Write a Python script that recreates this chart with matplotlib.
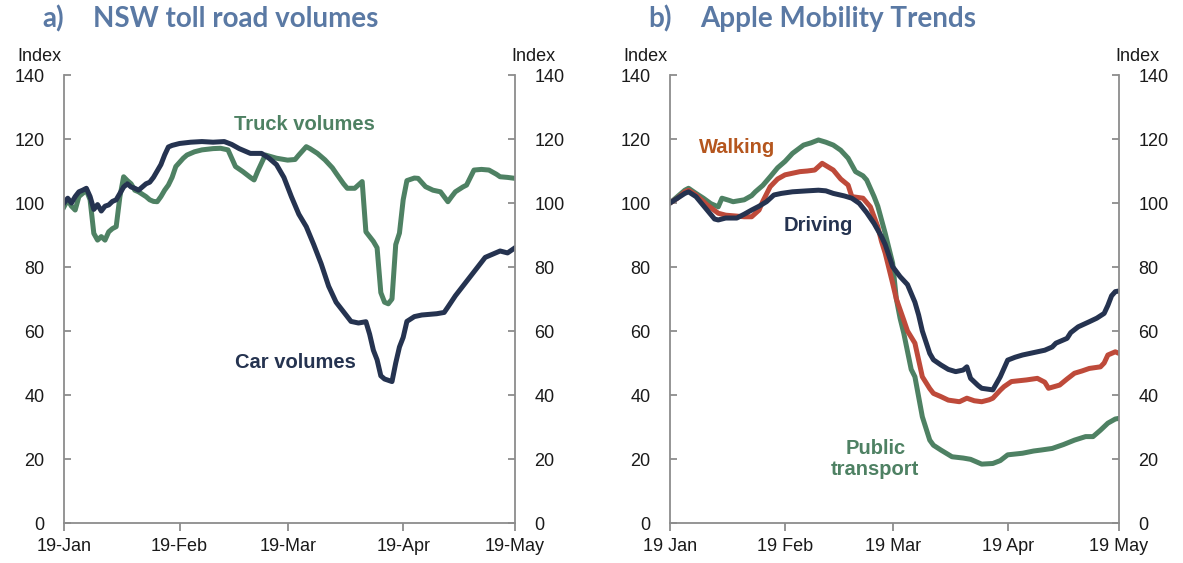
import matplotlib
matplotlib.use("Agg")
import matplotlib.pyplot as plt
import pandas as pd

# ---------------- data ----------------
base = pd.Timestamp("2020-01-19")

car_days = [0, 1, 2, 3, 4, 5, 6, 7, 8, 9, 10, 11, 12, 13, 14, 15, 16, 17, 18, 19, 20, 21, 22, 23,
            24, 25, 26, 27, 28, 29, 31, 34, 37, 40, 43, 45, 47, 50, 53, 55, 57, 59, 61, 63, 65, 67,
            69, 71, 73, 75, 77, 79, 81, 82, 83, 84, 85, 86, 88, 89, 90, 91, 92, 94, 96, 98, 100,
            102, 103, 105, 107, 109, 111, 113, 115, 117, 119, 121]
car_vals = [100, 101.5, 100, 102, 103.5, 104, 104.6, 102, 98, 99.5, 97.5, 99, 99.4, 100.5, 101,
            103, 105, 106, 105, 104.6, 104, 105, 106, 106.5, 108, 110, 112, 115, 117.5, 118, 118.6,
            119, 119.2, 119, 119.2, 118.3, 117, 115.5, 115.5, 114, 112, 108, 102, 96.5, 92.6, 87,
            81, 74, 69, 66, 63, 62.5, 62.9, 59, 54, 51, 46, 45, 44.2, 50, 55, 58, 63, 64.5, 65,
            65.2, 65.4, 65.8, 67.5, 71, 74, 77, 80, 83, 84, 85, 84.4, 86]

truck_days = [0, 1, 2, 3, 4, 5, 6, 7, 8, 9, 10, 11, 12, 13, 14, 15, 16, 17, 18, 19, 20, 22, 23,
              24, 25, 26, 27, 28, 29, 30, 32, 33, 35, 37, 40, 42, 44, 45, 46, 48, 50, 51, 52, 53,
              54, 57, 60, 62, 63, 65, 66, 68, 70, 72, 73, 75, 76, 78, 80, 81, 82, 83, 84, 85, 86,
              87, 88, 89, 90, 91, 92, 94, 95, 97, 99, 101, 103, 104, 105, 107, 108, 110, 112, 114,
              116, 117, 119, 121]
truck_vals = [98.8, 101, 99, 97.8, 102, 103, 104, 101, 90.5, 88.4, 89.5, 88.4, 91, 92, 92.6, 102,
              108.2, 107, 106, 104, 103.5, 102, 101, 100.5, 100.4, 102, 104, 105.6, 108, 111.4,
              114, 115, 116, 116.6, 117, 117.1, 116.6, 114, 111.4, 109.8, 108, 107.2, 110, 112.5,
              115, 114, 113.4, 113.6, 115, 117.6, 117, 115.5, 113.5, 111, 109.3, 106, 104.6,
              104.6, 106.7, 91, 89.5, 88, 86, 72, 69, 68.5, 70, 87, 90.6, 101, 107, 107.8, 107.7,
              105.1, 104, 103.5, 100.4, 102, 103.5, 105, 105.6, 110.3, 110.5, 110.3, 109, 108.2,
              108, 107.7]

drive_days = [0, 2, 4, 5, 7, 10, 12, 13, 15, 18, 20, 22, 24, 26, 28, 30, 33, 37, 40, 42, 44, 47,
              49, 51, 53, 55, 57, 58, 60, 62, 64, 66, 67, 68, 70, 71, 73, 75, 77, 79, 80, 81, 83,
              84, 87, 89, 91, 93, 95, 97, 99, 101, 103, 104, 107, 108, 110, 113, 115, 117, 118,
              119, 120, 121]
drive_vals = [100, 101.5, 103, 103.5, 102, 97.8, 95, 94.7, 95.3, 95.3, 96.5, 97.8, 99, 100.4,
              102.5, 103, 103.5, 103.8, 104, 103.8, 103, 102.2, 101.5, 99.9, 97, 93.6, 89.5, 87,
              80.1, 77, 74.5, 69, 65, 60, 53, 51, 49.4, 48, 47.3, 47.8, 48.8, 45.2, 43, 42.1,
              41.6, 45.7, 50.9, 51.8, 52.5, 53, 53.5, 54, 55, 56.2, 57.7, 59.5, 61.3, 62.9, 64,
              65.5, 68, 71, 72.3, 72.5]

walk_days = [0, 2, 4, 5, 7, 10, 13, 15, 17, 20, 22, 24, 25, 27, 29, 31, 33, 35, 37, 39, 41, 43,
             44, 46, 48, 49, 52, 54, 56, 57, 58, 60, 61, 63, 64, 66, 68, 70, 71, 73, 75, 78, 80,
             82, 84, 86, 87, 89, 90, 92, 96, 99, 101, 102, 105, 107, 109, 111, 113, 116, 117,
             118, 120, 121]
walk_vals = [100, 101.5, 103.5, 104, 102.5, 99.4, 96.8, 96.2, 96, 95.7, 95.7, 97.8, 100.5, 105.1,
             107.5, 108.8, 109.3, 109.8, 110, 110.3, 112.4, 111, 110.3, 107.5, 105.6, 102, 101.5,
             98.8, 92.6, 88, 84.3, 74.9, 70, 63.4, 60, 56.2, 45.7, 42, 40.5, 39.5, 38.4, 37.9,
             39, 38.2, 37.9, 38.5, 39, 41.5, 42.6, 44.2, 44.7, 45.2, 44, 42.1, 43.1, 45, 46.8,
             47.5, 48.3, 48.8, 50, 52.5, 53.5, 53]

pt_days = [0, 2, 4, 5, 7, 9, 11, 13, 14, 16, 17, 20, 22, 23, 25, 27, 29, 31, 33, 36, 38, 40, 42,
           44, 46, 48, 50, 52, 53, 55, 56, 58, 60, 61, 62, 63, 65, 66, 68, 70, 71, 73, 76, 79, 81,
           84, 87, 89, 91, 95, 98, 100, 103, 106, 109, 112, 114, 116, 118, 120, 121]
pt_vals = [100, 102, 104, 104.6, 103, 101.5, 99.8, 98.8, 101.5, 100.8, 100.4, 101, 102.3, 103.5,
           105.5, 108.2, 111, 113, 115.5, 118.1, 118.8, 119.7, 119, 118.1, 116.5, 114, 109.8,
           108.5, 107.2, 102, 99, 90.5, 81.2, 70, 64, 59.3, 48, 45.7, 33.2, 25.9, 24.3, 22.8,
           20.7, 20.3, 19.9, 18.4, 18.6, 19.5, 21.3, 21.8, 22.5, 22.8, 23.3, 24.5, 25.9, 27, 27,
           29, 31.2, 32.5, 32.7]

tick_dates = ["2020-01-19", "2020-02-19", "2020-03-19", "2020-04-19", "2020-05-19"]
left_tick_labels = ["19-Jan", "19-Feb", "19-Mar", "19-Apr", "19-May"]
right_tick_labels = ["19 Jan", "19 Feb", "19 Mar", "19 Apr", "19 May"]
y_ticks = [0, 20, 40, 60, 80, 100, 120, 140]

# ---------------- style ----------------
NAVY = "#253350"
GREEN = "#4E8163"
RED = "#BE4A3A"
ORANGE = "#B5561E"
TITLE = "#5A79A4"
SPINE = "#8C8C8C"
FONT = "Liberation Sans"
LW = 3.6

plt.rcParams["font.family"] = [FONT, "DejaVu Sans"]

W, H = 1183, 563
fig = plt.figure(figsize=(W / 100, H / 100), dpi=100)


def to_dates(days):
    return base + pd.to_timedelta(days, unit="D")


def style_axes(ax, labels):
    ax.set_ylim(0, 140)
    ax.set_xlim(pd.Timestamp(tick_dates[0]), pd.Timestamp(tick_dates[-1]))
    ax.spines["top"].set_visible(False)
    for s in ("left", "right", "bottom"):
        ax.spines[s].set_color(SPINE)
        ax.spines[s].set_linewidth(1.3)
    ax.set_yticks(y_ticks)
    ax.set_yticklabels([str(v) for v in y_ticks])
    ax.tick_params(axis="y", which="both", direction="in", length=5, width=1.3,
                   color=SPINE, left=True, right=True, labelleft=True,
                   labelright=True, pad=14, labelsize=13, labelcolor="#1a1a1a")
    ax.set_xticks([pd.Timestamp(d) for d in tick_dates])
    ax.set_xticklabels(labels)
    ax.tick_params(axis="x", direction="out", length=6, width=1.3, color=SPINE,
                   pad=5, labelsize=13, labelcolor="#1a1a1a")
    ax.text(-0.055, 1.042, "Index", transform=ax.transAxes, ha="center",
            va="center", fontsize=13, color="#1a1a1a")
    ax.text(1.04, 1.042, "Index", transform=ax.transAxes, ha="center",
            va="center", fontsize=13, color="#1a1a1a")


# left panel
ax1 = fig.add_axes([64 / W, 40 / H, 451 / W, 448 / H])
ax1.plot(to_dates(truck_days), truck_vals, color=GREEN, lw=LW, solid_joinstyle="round")
ax1.plot(to_dates(car_days), car_vals, color=NAVY, lw=LW, solid_joinstyle="round")
style_axes(ax1, left_tick_labels)
ax1.text(to_dates([64.6])[0], 124.4, "Truck volumes", color=GREEN, fontsize=14.5,
         fontweight="bold", ha="center", va="center")
ax1.text(to_dates([62.2])[0], 50, "Car volumes", color=NAVY, fontsize=14.5,
         fontweight="bold", ha="center", va="center")

# right panel
ax2 = fig.add_axes([670 / W, 40 / H, 449 / W, 448 / H])
ax2.plot(to_dates(pt_days), pt_vals, color=GREEN, lw=LW, solid_joinstyle="round")
ax2.plot(to_dates(walk_days), walk_vals, color=RED, lw=LW, solid_joinstyle="round")
ax2.plot(to_dates(drive_days), drive_vals, color=NAVY, lw=LW, solid_joinstyle="round")
style_axes(ax2, right_tick_labels)
ax2.text(to_dates([18.1])[0], 117.5, "Walking", color=ORANGE, fontsize=14.5,
         fontweight="bold", ha="center", va="center")
ax2.text(to_dates([39.9])[0], 93.1, "Driving", color=NAVY, fontsize=14.5,
         fontweight="bold", ha="center", va="center")
ax2.text(to_dates([55.3])[0], 20.0, "Public\ntransport", color=GREEN, fontsize=14.5,
         fontweight="bold", ha="center", va="center", linespacing=1.1)

# titles
tfam = ["Lato", "DejaVu Sans"]
TS = 20
fig.text(42 / W, 1 - 19 / H, "a)", color=TITLE, fontsize=TS, fontweight="bold",
         family=tfam, ha="left", va="center")
fig.text(93 / W, 1 - 19 / H, "NSW toll road volumes", color=TITLE, fontsize=TS,
         fontweight="bold", family=tfam, ha="left", va="center")
fig.text(648 / W, 1 - 19 / H, "b)", color=TITLE, fontsize=TS, fontweight="bold",
         family=tfam, ha="left", va="center")
fig.text(700 / W, 1 - 19 / H, "Apple Mobility Trends", color=TITLE, fontsize=TS,
         fontweight="bold", family=tfam, ha="left", va="center")

fig.savefig("out.png", dpi=100)
